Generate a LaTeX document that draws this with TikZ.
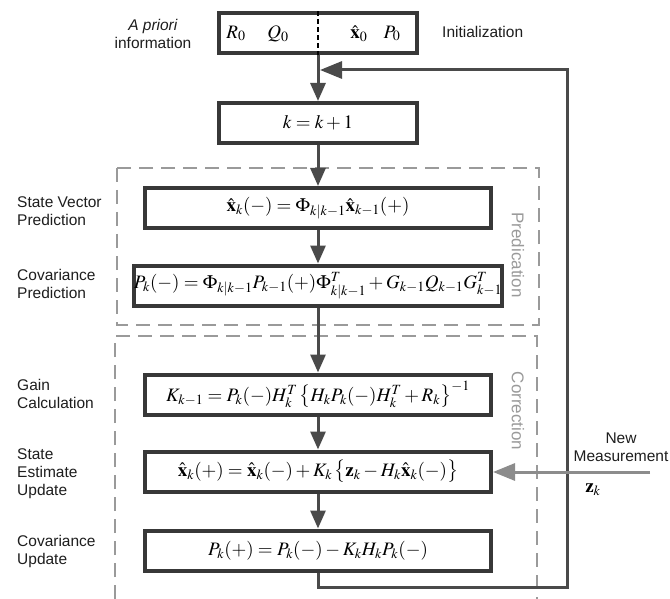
\documentclass[tikz,border=0pt]{standalone}
\usepackage{mathptmx}
\usepackage[no-math]{fontspec}
\setmainfont{Liberation Sans}
\usetikzlibrary{arrows.meta}

\definecolor{boxc}{HTML}{383838}
\definecolor{arrc}{HTML}{4A4A4A}
\definecolor{grpc}{HTML}{9A9A9A}
\definecolor{labc}{HTML}{1E1E1E}
\definecolor{measc}{HTML}{8C8C8C}

\newcommand\fmath{\fontsize{19}{22}\selectfont}
\newcommand\flab{\fontsize{15.5}{18}\selectfont}
\newcommand\fgrp{\fontsize{17}{20}\selectfont}

\begin{document}
\begin{tikzpicture}[x=1pt,y=-1pt,
  box/.style={draw=boxc, line width=4pt, fill=white, minimum width=346pt,
    minimum height=40pt, inner sep=0pt, font=\fmath},
  smallbox/.style={box, minimum width=198pt},
  lab/.style={anchor=west, align=left, inner sep=0pt, font=\flab, text=labc},
  grp/.style={draw=grpc, line width=2pt, dash pattern=on 14pt off 8pt},
  grptext/.style={rotate=-90, inner sep=0pt, font=\fgrp, text=grpc},
  flow/.style={draw=arrc, line width=3pt, -{Triangle[length=18pt,width=15pt]}},
  loopline/.style={draw=arrc, line width=3pt, -{Triangle[length=22pt,width=17pt]}},
  meas/.style={draw=measc, line width=3pt, -{Triangle[length=22pt,width=17pt]}},
  plain/.style={inner sep=0pt, font=\fmath}
]
\useasboundingbox (0,0) rectangle (670,599);
\fill[white] (0,0) rectangle (670,599);

% dashed frames of the two stages
\draw[grp] (117,168) rectangle (539,325);
\draw[grp] (115,599) -- (115,336) -- (537,336) -- (537,599);
\node[grptext] (pred) at (518,255) {Predication};
\node[grptext] (corr) at (518,411) {Correction};

% initialization box
\node[smallbox] (init) at (318,33.5) {};
\draw[black, line width=1.2pt, dash pattern=on 5pt off 3pt] (init.north) -- (init.south);
\node[plain] (r0) at (236,33.5) {$R_0$};
\node[plain] (q0) at (278,33.5) {$Q_0$};
\node[plain] (x0) at (359,33.5) {$\hat{\mathbf x}_0$};
\node[plain] (p0) at (392,33.5) {$P_0$};

% processing steps
\node[smallbox] (inc) at (318,123) {$k=k+1$};
\node[box] (sv) at (318,208) {$\hat{\mathbf x}_k(-)=\Phi_{k|k-1}\hat{\mathbf x}_{k-1}(+)$};
\node[box] (cp) at (318,285.5) {$P_k(-)=\Phi_{k|k-1}P_{k-1}(+)\Phi^T_{k|k-1}+G_{k-1}Q_{k-1}G^T_{k-1}$};
\node[box] (gain) at (318,394.5) {$K_{k-1}=P_k(-)H_k^T\,\bigl\{H_kP_k(-)H_k^T+R_k\bigr\}^{-1}$};
\node[box] (seu) at (318,471.5) {$\hat{\mathbf x}_k(+)=\hat{\mathbf x}_k(-)+K_k\,\bigl\{\mathbf z_k-H_k\hat{\mathbf x}_k(-)\bigr\}$};
\node[box] (cu) at (318,550.5) {$P_k(+)=P_k(-)-K_kH_kP_k(-)$};

% main flow
\draw[flow] (init.south) -- (inc.north);
\draw[flow] (inc.south) -- (sv.north);
\draw[flow] (sv.south) -- (cp.north);
\draw[flow] (cp.south) -- (gain.north);
\draw[flow] (gain.south) -- (seu.north);
\draw[flow] (seu.south) -- (cu.north);

% feedback loop
\coordinate (fbr) at (567,587);
\coordinate (fbt) at (567,70);
\coordinate (join) at (320,70);
\draw[loopline] (cu.south) |- (fbr) -- (fbt) -- (join);

% measurement input
\coordinate (msrc) at (650,472);
\draw[meas] (msrc) -- (seu.east |- msrc);
\node[align=center, inner sep=0pt, font=\flab, text=labc] (nm) at (621,447) {New\\Measurement};
\node[plain] (zk) at (593,490) {$\mathbf z_k$};

% side labels
\node[align=center, inner sep=0pt, font=\flab, text=labc] (apr) at (153,33.5) {\textit{A priori}\\information};
\node[lab] (ini) at (442,32) {Initialization};
\node[lab] (l1) at (17,211) {State Vector\\Prediction};
\node[lab] (l2) at (17,284) {Covariance\\Prediction};
\node[lab] (l3) at (17,394) {Gain\\Calculation};
\node[lab] (l4) at (17,473.5) {State\\Estimate\\Update};
\node[lab] (l5) at (17,551) {Covariance\\Update};
\end{tikzpicture}
\end{document}
